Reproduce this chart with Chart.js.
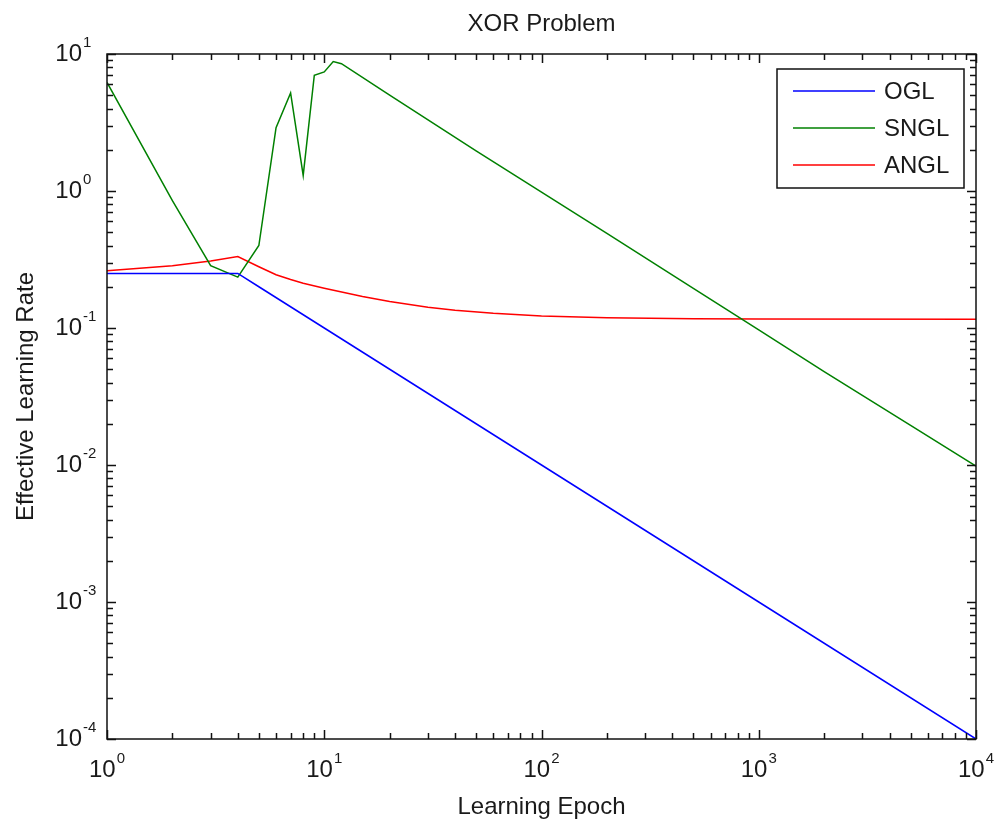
<!DOCTYPE html>
<html>
<head>
<meta charset="utf-8">
<title>XOR Problem</title>
<script src="https://cdn.jsdelivr.net/npm/chart.js@4.4.1/dist/chart.umd.min.js"></script>
<style>
    html, body { margin: 0; padding: 0; background: #ffffff; }
    canvas { display: block; }
</style>
</head>
<body>
<canvas id="rateChart" width="998" height="825"></canvas>
<script>
// Learning rate data per method (epoch, effective rate)
const oglEpoch = [1, 2, 3, 4, 5, 10, 100, 1000, 10000];
const oglRate = [0.25, 0.25, 0.25, 0.25, 0.2, 0.1, 0.01, 0.001, 0.0001];

const snglEpoch = [1, 2, 3, 4, 5, 6, 7, 8, 9, 10, 11, 12, 20, 50, 100, 200, 500, 1000, 2000, 5000, 10000];
const snglRate = [6.2, 0.85, 0.285, 0.235, 0.40, 2.9, 5.2, 1.3, 7.0, 7.4, 8.8, 8.5, 5.0, 1.96, 0.98, 0.49, 0.195, 0.097, 0.048, 0.0195, 0.0098];

const anglEpoch = [1, 2, 3, 4, 5, 6, 7, 8, 10, 15, 20, 30, 40, 60, 100, 200, 500, 1000, 10000];
const anglRate = [0.262, 0.285, 0.308, 0.332, 0.28, 0.245, 0.226, 0.212, 0.195, 0.17, 0.156, 0.142, 0.135, 0.128, 0.1225, 0.119, 0.117, 0.1165, 0.116];

// Decade ticks (labelled as 10^n)
const xTickExponents = [0, 1, 2, 3, 4];
const yTickExponents = [1, 0, -1, -2, -3, -4];

const seriesLabels = ['OGL', 'SNGL', 'ANGL'];
const seriesColors = ['#0000ff', '#008000', '#ff0000'];

const FONT = "'Liberation Sans', Arial, Helvetica, sans-serif";
const TEXT_COLOR = '#1a1a1a';

function toPoints(xs, ys) {
    return xs.map(function(v, i) { return { x: v, y: ys[i] }; });
}

// draws "10" with a raised exponent
// align 'center': whole label centred on px; 'right': the "10" ends at px
function drawPower(ctx, exp, px, py, align) {
    const base = '10';
    const sup = String(exp);
    ctx.font = '24px ' + FONT;
    const wBase = ctx.measureText(base).width;
    ctx.font = '15px ' + FONT;
    const wSup = ctx.measureText(sup).width;
    const total = wBase + 1 + wSup;
    let left = align === 'right' ? px - wBase : px - total / 2;
    ctx.textAlign = 'left';
    ctx.textBaseline = 'middle';
    ctx.font = '24px ' + FONT;
    ctx.fillText(base, left, py);
    ctx.textBaseline = 'alphabetic';
    ctx.font = '15px ' + FONT;
    ctx.fillText(sup, left + wBase + 1, py - 7);
}

const matlabAxes = {
    id: 'matlabAxes',
    afterDraw(chart) {
        const ctx = chart.ctx;
        const a = chart.chartArea;
        const xs = chart.scales.x;
        const ys = chart.scales.y;
        const majorLen = 9, minorLen = 6;

        ctx.save();
        ctx.strokeStyle = '#111111';
        ctx.lineWidth = 1.5;

        // tick marks on all four sides, pointing inward
        ctx.beginPath();
        xTickExponents.forEach(function(e, i) {
            const steps = i < xTickExponents.length - 1 ? 9 : 1;
            for (let m = 1; m <= steps; m++) {
                const px = Math.round(xs.getPixelForValue(m * Math.pow(10, e))) + 0.5;
                const len = m === 1 ? majorLen : minorLen;
                ctx.moveTo(px, a.bottom); ctx.lineTo(px, a.bottom - len);
                ctx.moveTo(px, a.top); ctx.lineTo(px, a.top + len);
            }
        });
        yTickExponents.forEach(function(e) {
            const mMax = e === 1 ? 1 : 9;
            for (let m = 1; m <= mMax; m++) {
                const py = Math.round(ys.getPixelForValue(m * Math.pow(10, e))) + 0.5;
                const len = m === 1 ? majorLen : minorLen;
                ctx.moveTo(a.left, py); ctx.lineTo(a.left + len, py);
                ctx.moveTo(a.right, py); ctx.lineTo(a.right - len, py);
            }
        });
        ctx.stroke();

        // axes box
        ctx.strokeRect(a.left, a.top, a.right - a.left, a.bottom - a.top);

        // tick labels
        ctx.fillStyle = TEXT_COLOR;
        xTickExponents.forEach(function(e) {
            drawPower(ctx, e, xs.getPixelForValue(Math.pow(10, e)), a.bottom + 31, 'center');
        });
        yTickExponents.forEach(function(e) {
            drawPower(ctx, e, a.left - 25, ys.getPixelForValue(Math.pow(10, e)), 'right');
        });

        // title and axis labels
        ctx.font = '24px ' + FONT;
        ctx.textAlign = 'center';
        ctx.textBaseline = 'middle';
        ctx.fillText('XOR Problem', (a.left + a.right) / 2, 24);
        ctx.fillText('Learning Epoch', (a.left + a.right) / 2, 807);
        ctx.save();
        ctx.translate(26, (a.top + a.bottom) / 2);
        ctx.rotate(-Math.PI / 2);
        ctx.fillText('Effective Learning Rate', 0, 0);
        ctx.restore();

        // legend box in the upper right corner
        const lx = 777, ly = 69, lw = 187, lh = 119;
        ctx.fillStyle = '#ffffff';
        ctx.fillRect(lx, ly, lw, lh);
        ctx.strokeStyle = '#111111';
        ctx.lineWidth = 1.5;
        ctx.strokeRect(lx, ly, lw, lh);
        chart.data.datasets.forEach(function(ds, i) {
            const rowY = 91 + i * 37;
            ctx.strokeStyle = ds.borderColor;
            ctx.lineWidth = 1.5;
            ctx.beginPath();
            ctx.moveTo(793, rowY);
            ctx.lineTo(875, rowY);
            ctx.stroke();
            ctx.fillStyle = TEXT_COLOR;
            ctx.textAlign = 'left';
            ctx.textBaseline = 'middle';
            ctx.font = '24px ' + FONT;
            ctx.fillText(ds.label, 884, rowY + 1);
        });
        ctx.restore();
    }
};

new Chart(document.getElementById('rateChart'), {
    type: 'line',
    data: {
        datasets: [
            { label: seriesLabels[0], data: toPoints(oglEpoch, oglRate), borderColor: seriesColors[0] },
            { label: seriesLabels[1], data: toPoints(snglEpoch, snglRate), borderColor: seriesColors[1] },
            { label: seriesLabels[2], data: toPoints(anglEpoch, anglRate), borderColor: seriesColors[2] }
        ]
    },
    options: {
        responsive: false,
        animation: false,
        devicePixelRatio: 1,
        layout: { padding: { left: 107, top: 54, right: 22, bottom: 86 } },
        elements: {
            line: { borderWidth: 1.5, tension: 0, fill: false },
            point: { radius: 0, hoverRadius: 0 }
        },
        scales: {
            x: { type: 'logarithmic', min: 1, max: 10000, display: false },
            y: { type: 'logarithmic', min: 0.0001, max: 10, display: false }
        },
        plugins: {
            legend: { display: false },
            tooltip: { enabled: false }
        }
    },
    plugins: [matlabAxes]
});
</script>
</body>
</html>
